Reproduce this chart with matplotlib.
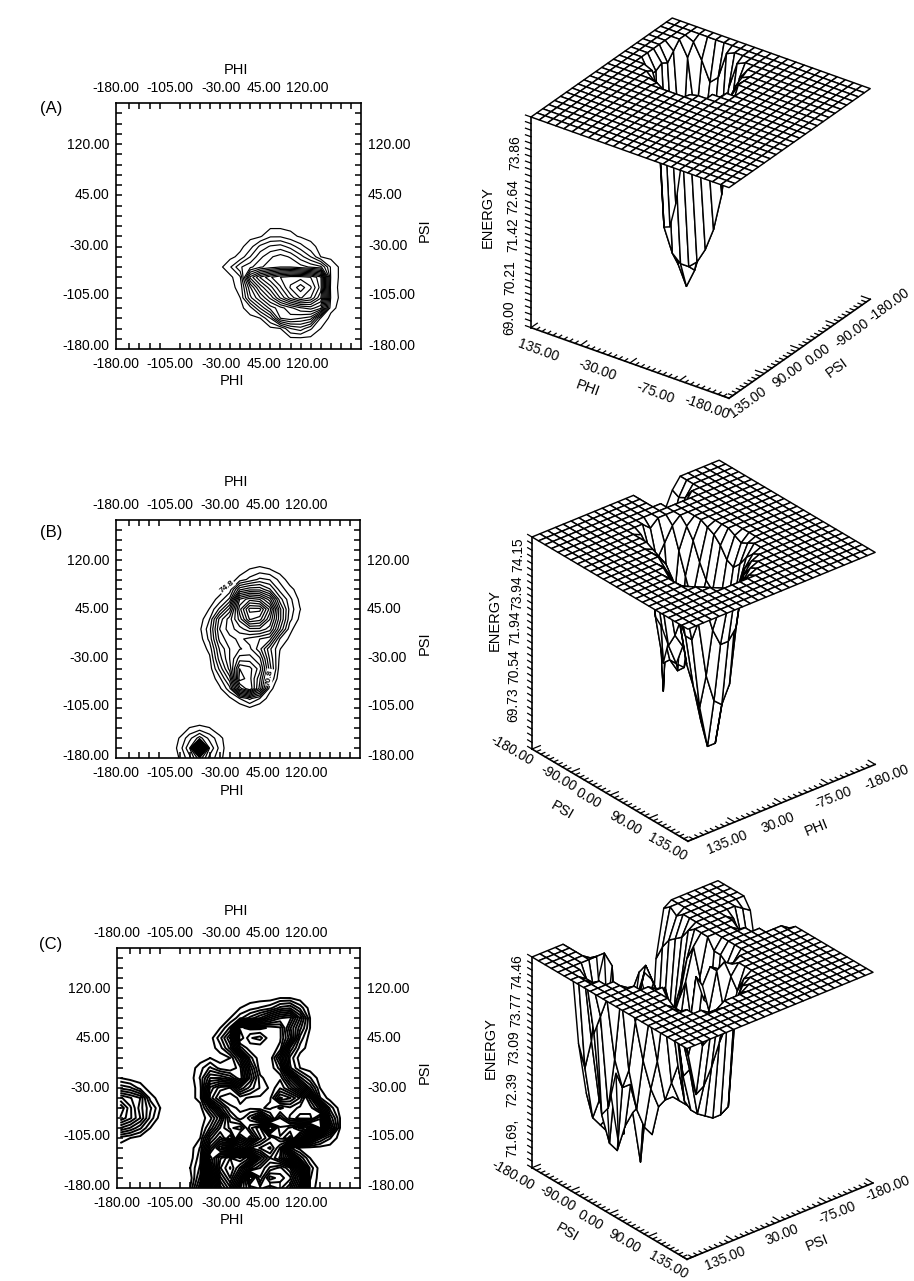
import numpy as np
from matplotlib import pyplot as plt
from mpl_toolkits.mplot3d import proj3d

plt.rcParams['font.family'] = ['Liberation Sans', 'DejaVu Sans']
W, H = 914, 1281

# grid of the energy map, 15 degree steps, flat plateau outside the wells
PHI = np.arange(-180, 181, 15)
PSI = np.arange(-180, 181, 15)
PLATEAU = 75.0

A_COLS = [-15, 0, 15, 30, 45, 60, 75, 90, 105, 120, 135, 150]
A_ROWS = [-15, -30, -45, -60, -75, -90, -105, -120, -135, -150]
A_VALS = [
    [75.0, 75.0, 75.0, 74.95, 74.6, 74.6, 74.8, 74.95, 75.0, 75.0, 75.0, 75.0],
    [75.0, 75.0, 74.7, 74.1, 73.8, 73.7, 74.0, 74.4, 74.8, 75.0, 75.0, 75.0],
    [75.0, 74.8, 74.2, 73.6, 73.2, 73.0, 73.2, 73.7, 74.2, 74.9, 75.0, 75.0],
    [74.6, 73.9, 73.6, 73.2, 73.0, 72.8, 72.8, 73.0, 73.2, 73.4, 74.6, 75.0],
    [75.0, 74.6, 72.0, 71.0, 70.4, 70.0, 69.8, 69.8, 70.0, 70.6, 74.6, 75.0],
    [75.0, 74.8, 73.2, 72.0, 71.2, 70.4, 69.6, 69.1, 69.6, 70.5, 74.7, 75.0],
    [75.0, 74.9, 73.6, 72.8, 72.0, 71.0, 70.2, 69.6, 70.0, 71.0, 74.6, 75.0],
    [75.0, 75.0, 74.7, 73.8, 73.0, 72.6, 72.2, 71.8, 71.6, 72.0, 74.8, 75.0],
    [75.0, 75.0, 75.0, 74.9, 74.2, 72.8, 72.6, 72.8, 73.0, 74.6, 75.0, 75.0],
    [75.0, 75.0, 75.0, 75.0, 75.0, 74.9, 74.2, 74.0, 74.5, 74.9, 75.0, 75.0],
]

# (B) main well
B_COLS = [-75, -60, -45, -30, -15, 0, 15, 30, 45, 60, 75, 90, 105]
B_ROWS = [105, 90, 75, 60, 45, 30, 15, 0, -15, -30, -45, -60, -75, -90, -105]
B_VALS = [
    [75.0, 75.0, 75.0, 75.0, 75.0, 74.9, 74.7, 74.6, 74.7, 74.9, 75.0, 75.0, 75.0],
    [75.0, 75.0, 75.0, 75.0, 74.9, 74.6, 74.3, 74.0, 74.1, 74.5, 74.9, 75.0, 75.0],
    [75.0, 75.0, 75.0, 74.9, 74.6, 73.2, 72.9, 72.9, 73.4, 74.2, 74.6, 74.9, 75.0],
    [75.0, 75.0, 74.9, 74.6, 74.0, 71.5, 71.0, 71.2, 72.0, 73.6, 74.3, 74.8, 75.0],
    [75.0, 75.0, 74.7, 74.0, 73.0, 71.0, 69.8, 69.8, 71.0, 73.0, 74.2, 74.7, 75.0],
    [75.0, 74.9, 74.4, 73.0, 72.3, 71.4, 70.2, 70.4, 71.5, 73.0, 74.3, 74.8, 75.0],
    [75.0, 74.8, 74.2, 72.8, 72.3, 72.0, 71.6, 71.6, 72.0, 73.4, 74.6, 75.0, 75.0],
    [75.0, 74.9, 74.3, 73.0, 72.6, 72.4, 72.6, 72.8, 73.0, 74.4, 74.8, 75.0, 75.0],
    [75.0, 75.0, 74.6, 73.4, 72.8, 72.5, 72.4, 73.0, 74.0, 74.7, 75.0, 75.0, 75.0],
    [75.0, 75.0, 74.8, 73.6, 72.8, 72.0, 72.0, 72.4, 73.8, 74.8, 75.0, 75.0, 75.0],
    [75.0, 75.0, 74.9, 74.0, 73.0, 71.2, 71.4, 72.0, 73.6, 74.9, 75.0, 75.0, 75.0],
    [75.0, 75.0, 75.0, 74.5, 73.6, 71.0, 71.4, 72.4, 74.0, 75.0, 75.0, 75.0, 75.0],
    [75.0, 75.0, 75.0, 74.8, 74.2, 72.0, 71.2, 72.6, 74.6, 75.0, 75.0, 75.0, 75.0],
    [75.0, 75.0, 75.0, 75.0, 74.8, 74.4, 74.0, 74.4, 74.9, 75.0, 75.0, 75.0, 75.0],
    [75.0, 75.0, 75.0, 75.0, 75.0, 75.0, 74.8, 75.0, 75.0, 75.0, 75.0, 75.0, 75.0],
]
# (B) small well at the bottom edge
B2_COLS = [-90, -75, -60, -45, -30]
B2_ROWS = [-135, -150, -165, -180]
B2_VALS = [
    [75.0, 74.7, 74.6, 74.7, 75.0],
    [74.7, 74.2, 73.6, 74.2, 74.6],
    [74.6, 73.8, 69.3, 73.8, 74.5],
    [74.7, 74.2, 73.2, 74.2, 74.6],
]

# (C) main region
C_COLS = [-75, -60, -45, -30, -15, 0, 15, 30, 45, 60, 75, 90, 105, 120, 135, 150]
C_ROWS = [105, 90, 75, 60, 45, 30, 15, 0, -15, -30, -45, -60, -75, -90, -105,
          -120, -135, -150, -165, -180]
C_VALS = [
    [75.0, 75.0, 75.0, 75.0, 75.0, 75.0, 75.0, 75.0, 75.0, 74.9, 74.9, 75.0, 75.0, 75.0, 75.0, 75.0],
    [75.0, 75.0, 75.0, 75.0, 75.0, 74.9, 74.8, 74.7, 74.6, 74.3, 74.2, 74.6, 75.0, 75.0, 75.0, 75.0],
    [75.0, 75.0, 75.0, 75.0, 74.9, 74.6, 74.3, 74.0, 73.6, 73.3, 73.2, 74.0, 74.9, 75.0, 75.0, 75.0],
    [75.0, 75.0, 75.0, 74.9, 74.5, 72.6, 72.5, 72.5, 72.6, 72.7, 73.6, 74.3, 74.9, 75.0, 75.0, 75.0],
    [75.0, 75.0, 75.0, 74.6, 74.0, 72.4, 72.9, 73.0, 72.6, 72.7, 73.4, 74.6, 75.0, 75.0, 75.0, 75.0],
    [75.0, 75.0, 75.0, 74.8, 74.3, 73.0, 72.6, 72.6, 72.6, 72.8, 74.2, 74.8, 75.0, 75.0, 75.0, 75.0],
    [75.0, 75.0, 74.9, 75.0, 74.9, 74.2, 73.0, 72.6, 72.6, 73.4, 74.6, 75.0, 75.0, 75.0, 75.0, 75.0],
    [75.0, 74.8, 74.5, 74.8, 74.9, 74.6, 73.4, 72.6, 72.6, 73.0, 74.5, 74.9, 75.0, 75.0, 75.0, 75.0],
    [75.0, 74.7, 74.0, 74.0, 74.2, 74.7, 73.6, 72.8, 72.6, 72.6, 73.4, 74.3, 74.7, 75.0, 75.0, 75.0],
    [75.0, 74.8, 73.4, 73.0, 72.9, 73.6, 73.2, 72.9, 72.7, 72.4, 72.8, 73.4, 74.2, 74.9, 75.0, 75.0],
    [75.0, 74.8, 73.2, 72.7, 72.6, 72.8, 72.7, 72.7, 72.6, 71.8, 72.0, 72.4, 73.2, 74.7, 75.0, 75.0],
    [75.0, 75.0, 74.3, 73.4, 72.8, 72.7, 72.7, 72.6, 72.5, 72.8, 72.6, 72.8, 72.8, 73.4, 74.6, 75.0],
    [75.0, 75.0, 74.8, 74.2, 73.2, 72.8, 73.2, 73.8, 73.0, 72.2, 72.8, 73.0, 73.0, 72.4, 74.2, 74.9],
    [75.0, 75.0, 74.5, 73.8, 73.4, 73.6, 72.8, 72.4, 71.0, 72.0, 71.8, 71.4, 71.6, 72.2, 73.8, 74.9],
    [75.0, 74.9, 73.9, 73.4, 74.0, 72.8, 73.4, 72.6, 72.2, 71.8, 71.4, 72.4, 73.6, 74.3, 74.7, 75.0],
    [75.0, 74.7, 73.4, 72.6, 72.2, 71.8, 72.2, 72.0, 71.8, 72.4, 74.7, 75.0, 75.0, 75.0, 75.0, 75.0],
    [75.0, 74.6, 72.8, 73.6, 74.0, 74.2, 73.8, 72.8, 72.2, 72.6, 73.4, 74.4, 74.9, 75.0, 75.0, 75.0],
    [74.9, 74.5, 72.4, 73.8, 74.2, 73.6, 72.6, 72.2, 71.8, 71.6, 72.0, 73.2, 74.6, 75.0, 75.0, 75.0],
    [75.0, 74.3, 71.8, 73.4, 74.0, 73.0, 71.05, 72.0, 71.2, 71.4, 71.6, 72.6, 74.7, 75.0, 75.0, 75.0],
    [74.9, 74.0, 71.6, 73.0, 73.6, 72.4, 71.8, 71.6, 71.8, 71.6, 72.0, 73.0, 74.8, 75.0, 75.0, 75.0],
]
# (C) lobe on the left edge
C2_COLS = [-180, -165, -150, -135, -120]
C2_ROWS = [-15, -30, -45, -60, -75, -90, -105]
C2_VALS = [
    [74.9, 75.0, 75.0, 75.0, 75.0],
    [74.4, 74.5, 74.8, 75.0, 75.0],
    [73.6, 73.8, 74.0, 74.8, 75.0],
    [73.1, 73.6, 74.1, 74.5, 74.9],
    [73.3, 73.6, 74.0, 74.6, 75.0],
    [74.0, 74.2, 74.5, 74.9, 75.0],
    [74.8, 74.9, 75.0, 75.0, 75.0],
]

# tick labels
MAP_X_TICKS = [-180.0, -105.0, -30.0, 45.0, 120.0]
MAP_Y_TICKS = [120.0, 45.0, -30.0, -105.0, -180.0]
A_Z_LABELS = ['69.00', '70.21', '71.42', '72.64', '73.86']
B_Z_LABELS = ['69.73', '70.54', '71.94', '73.94', '74.15']
C_Z_LABELS = ['71.69,', '72.39', '73.09', '73.77', '74.46']
A_EDGE1 = ['135.00', '-30.00', '-75.00', '-180.00']
A_EDGE2 = ['135.00', '90.00', '0.00', '-90.00', '-180.00']
BC_EDGE1 = ['-180.00', '-90.00', '0.00', '90.00', '135.00']
BC_EDGE2 = ['135.00', '30.00', '-75.00', '-180.00']


def px_text(x, y, s, rot=0, size=10):
    plt.gcf().text(x/W, 1-y/H, s, rotation=rot, fontsize=size, ha='center',
                   va='center', rotation_mode='anchor')


def energy_grid(*parts):
    Z = np.full((len(PSI), len(PHI)), PLATEAU)
    for cols, rows, vals in parts:
        for i, psi in enumerate(rows):
            for j, phi in enumerate(cols):
                Z[(psi+180)//15, (phi+180)//15] = vals[i][j]
    return Z


def contour_panel(box, Z, levels, lw, ytitle, ybot):
    x0, y0, x1, y1 = box
    ax = plt.gcf().add_axes([x0/W, 1-y1/H, (x1-x0)/W, (y1-y0)/H])
    ax.contour(PHI, PSI, Z, levels=levels, colors='k', linewidths=lw)
    ax.set_xlim(-180, 180)
    ax.set_ylim(-180, 180)
    # labels sit where the original has them, not quite on their values
    ax.set_xticks([-185, -105, -29, 35, 100])
    ax.set_xticklabels(['%.2f' % v for v in MAP_X_TICKS])
    ax.set_yticks([121, 47, -27, -99, -174])
    ax.set_yticklabels(['%.2f' % v for v in MAP_Y_TICKS])
    ax.tick_params(length=0, labelsize=10, labeltop=True, labelright=True)
    ax.tick_params(axis='x', which='major', pad=6)
    ax.tick_params(axis='y', which='major', pad=5)
    ax.set_xticks(np.arange(-165, 180, 15), minor=True)
    ax.set_yticks(np.arange(-165, 180, 15), minor=True)
    ax.tick_params(which='minor', direction='in', length=4, width=1.1,
                   top=True, right=True, bottom=True, left=True)
    for s in ax.spines.values():
        s.set_linewidth(1.2)
    px_text(236, ytitle, 'PHI', size=10.5)
    px_text(232, ybot, 'PHI', size=10.5)
    px_text(425, (y0+y1)/2+4, 'PSI', rot=90, size=10.5)
    return ax


def fit_view(ax, p0, p1, t0, t1):
    # move and scale the axes so two 3d points land on the given pixels
    M = ax.get_proj()
    d = []
    for p in (p0, p1):
        xx, yy, _ = proj3d.proj_transform(p[0], p[1], p[2], M)
        d.append(ax.transData.transform((xx, yy)))
    d = np.array(d)
    t = np.array([[t0[0], H-t0[1]], [t1[0], H-t1[1]]], dtype=float)
    k = np.hypot(*(t[1]-t[0]))/np.hypot(*(d[1]-d[0]))
    pos = ax.get_position()
    c = np.array([(pos.x0+pos.width/2)*W, (pos.y0+pos.height/2)*H])
    c2 = t[0]-k*(d[0]-c)
    size = pos.width*W*k
    ax.set_position([(c2[0]-size/2)/W, (c2[1]-size/2)/H, size/W, size/H])


def surface_panel(Z, zlim, azim, elev, left, right, t0, t1, flip):
    ax = plt.gcf().add_axes([0.1, 0.1, 600/W, 600/H], projection='3d',
                            proj_type='ortho')
    ax.set_axis_off()
    ax.view_init(elev=elev, azim=azim)
    ax.set_box_aspect((1, 1, 1))
    X, Y = np.meshgrid(PHI, PSI)
    ax.plot_surface(X, Y, Z, rstride=1, cstride=1, color='white', shade=False,
                    edgecolor='k', linewidth=1.05)
    ax.set_xlim(-180, 180)
    ax.set_ylim(-180, 180)
    ax.set_zlim(*zlim)
    zb, zt = zlim
    # left: corner with the energy axis, right: far end, front corner between
    lx, ly = left
    rx, ry = right
    if flip:
        fx, fy = lx, ry
    else:
        fx, fy = rx, ly
    kw = dict(color='k', linewidth=1.2)
    ax.plot([lx, lx], [ly, ly], [zb, zt], **kw)
    ax.plot([lx, fx], [ly, fy], [zb, zb], **kw)
    ax.plot([fx, rx], [fy, ry], [zb, zb], **kw)
    kw = dict(color='k', linewidth=0.9)
    # dense tick marks along the three edges
    for f in np.linspace(0, 1, 37):
        n = 16 if int(round(f*36)) % 9 == 0 else 8
        ex, ey = lx+(fx-lx)*f, ly+(fy-ly)*f
        dx, dy = (rx-fx)/360*n, (ry-fy)/360*n
        ax.plot([ex, ex+dx], [ey, ey+dy], [zb, zb], **kw)
        ex, ey = fx+(rx-fx)*f, fy+(ry-fy)*f
        dx, dy = (lx-fx)/360*n, (ly-fy)/360*n
        ax.plot([ex, ex+dx], [ey, ey+dy], [zb, zb], **kw)
    for zz in np.linspace(zb, zt, 33):
        ax.plot([lx, lx+(lx-fx)/360*10], [ly, ly+(ly-fy)/360*10], [zz, zz], **kw)
    plt.gcf().canvas.draw()
    fit_view(ax, (lx, ly, zt), (rx, ry, zt), t0, t1)
    return ax


fig = plt.figure(figsize=(W/100, H/100), dpi=100)

px_text(51, 108, '(A)', size=12)
px_text(51, 532, '(B)', size=12)
px_text(51, 944, '(C)', size=12)

# contour maps
ZA = energy_grid((A_COLS, A_ROWS, A_VALS))
ZB = energy_grid((B_COLS, B_ROWS, B_VALS), (B2_COLS, B2_ROWS, B2_VALS))
ZC = energy_grid((C_COLS, C_ROWS, C_VALS), (C2_COLS, C2_ROWS, C2_VALS))

contour_panel((116, 103, 361, 349), ZA, np.arange(69.3, 74.9, 0.35), 0.85, 70, 381)
ax_b = contour_panel((116, 520, 360, 758), ZB, np.arange(69.6, 74.9, 0.32), 0.9, 482, 791)
contour_panel((117, 948, 360, 1188), ZC, np.arange(71.3, 74.9, 0.18), 1.4, 911, 1220)
ax_b.text(-19, 79, '74.8', fontsize=6, fontweight='bold', rotation=38,
          ha='center', va='center').set_bbox(
    dict(facecolor='white', edgecolor='none', pad=0.3))
ax_b.text(44, -58, '70.8', fontsize=6, fontweight='bold', rotation=80,
          ha='center', va='center').set_bbox(
    dict(facecolor='white', edgecolor='none', pad=0.3))

# surfaces
surface_panel(ZA, (69.5, 75.0), 125.5, 30, (180, 180), (-180, -180),
              (531, 117), (870, 86), False)
surface_panel(ZB, (69.0, 75.0), 50.2, 29.5, (180, -180), (-180, 180),
              (532, 537), (875, 555), True)
surface_panel(ZC, (71.0, 75.0), 50.2, 29.5, (180, -180), (-180, 180),
              (532, 957), (873, 972), True)

# text around the surfaces, placed as in the original
for s, x, y in zip(A_Z_LABELS, [509, 510, 513, 513, 515], [318, 278, 235, 197, 153]):
    px_text(x, y, s, rot=90)
px_text(488, 217, 'ENERGY', rot=90, size=10.5)
for s, x, y in zip(A_EDGE1, [538, 597, 655, 707], [350, 370, 393, 407]):
    px_text(x, y, s, rot=-20)
px_text(588, 388, 'PHI', rot=-20, size=10.5)
for s, x, y in zip(A_EDGE2, [748, 788, 818, 852, 889], [402, 375, 355, 333, 305]):
    px_text(x, y, s, rot=36)
px_text(837, 368, 'PSI', rot=36, size=10.5)

for s, x, y in zip(B_Z_LABELS, [513, 514, 515, 517, 518], [705, 667, 628, 593, 555]):
    px_text(x, y, s, rot=90)
px_text(495, 620, 'ENERGY', rot=90, size=10.5)
for s, x, y in zip(BC_EDGE1, [512, 558, 588, 625, 667], [750, 778, 798, 823, 847]):
    px_text(x, y, s, rot=-30)
px_text(562, 810, 'PSI', rot=-30, size=10.5)
for s, x, y in zip(BC_EDGE2, [727, 778, 833, 887], [842, 823, 798, 777]):
    px_text(x, y, s, rot=22)
px_text(817, 828, 'PHI', rot=22, size=10.5)

for s, x, y in zip(C_Z_LABELS, [512, 512, 514, 516, 517], [1138, 1090, 1048, 1010, 972]):
    px_text(x, y, s, rot=90)
px_text(491, 1048, 'ENERGY', rot=90, size=10.5)
for s, x, y in zip(BC_EDGE1, [513, 557, 590, 624, 668], [1175, 1198, 1220, 1241, 1265]):
    px_text(x, y, s, rot=-30)
px_text(567, 1232, 'PSI', rot=-30, size=10.5)
for s, x, y in zip(BC_EDGE2, [725, 782, 837, 888], [1258, 1235, 1213, 1188]):
    px_text(x, y, s, rot=22)
px_text(817, 1243, 'PSI', rot=22, size=10.5)

plt.savefig('out.png', dpi=100)
